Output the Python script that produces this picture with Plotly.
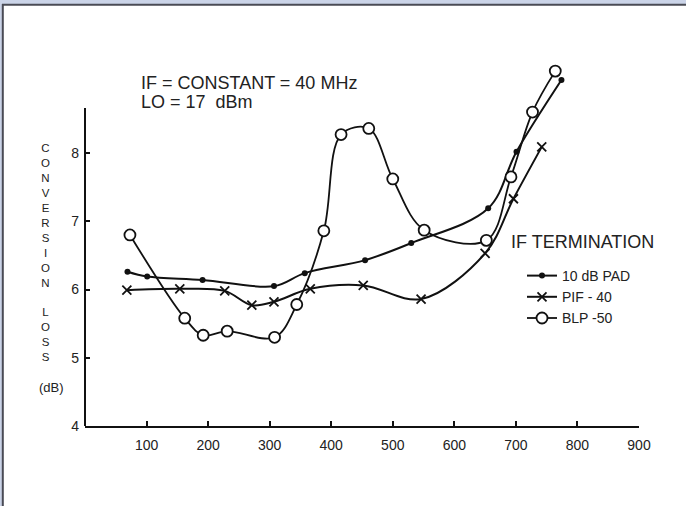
import plotly.graph_objects as go

# ---- data ----
pad_x = [69, 101, 191, 307, 357, 455, 530, 655, 701, 774]
pad_y = [6.26, 6.19, 6.14, 6.05, 6.24, 6.43, 6.68, 7.19, 8.02, 9.07]

pif_x = [68, 154, 227, 271, 307, 366, 452, 546, 650, 696, 742]
pif_y = [5.99, 6.01, 5.98, 5.77, 5.82, 6.01, 6.06, 5.86, 6.53, 7.33, 8.09]

blp_x = [73, 162, 192, 231, 308, 344, 388, 416, 461, 500, 551, 652, 692, 727, 764]
blp_y = [6.80, 5.58, 5.33, 5.39, 5.30, 5.78, 6.86, 8.27, 8.36, 7.62, 6.87, 6.72, 7.65, 8.60, 9.20]

x_ticks = [100, 200, 300, 400, 500, 600, 700, 800, 900]
y_ticks = [4, 5, 6, 7, 8]
series_names = ["10 dB PAD", "PIF - 40", "BLP -50"]

FONT = "Liberation Sans, Arial, sans-serif"
INK = "#111111"

fig = go.Figure()
fig.add_trace(go.Scatter(
    x=pad_x, y=pad_y, name=series_names[0], mode="lines+markers",
    line=dict(color=INK, width=2, shape="spline", smoothing=1.0),
    marker=dict(symbol="circle", size=6, color=INK),
    cliponaxis=False))
fig.add_trace(go.Scatter(
    x=pif_x, y=pif_y, name=series_names[1], mode="lines+markers",
    line=dict(color=INK, width=2, shape="spline", smoothing=1.0),
    marker=dict(symbol="x-thin", size=9, color=INK, line=dict(width=1.8, color=INK)),
    cliponaxis=False))
fig.add_trace(go.Scatter(
    x=blp_x, y=blp_y, name=series_names[2], mode="lines+markers",
    line=dict(color=INK, width=1.8, shape="spline", smoothing=1.0),
    marker=dict(symbol="circle", size=11, color="white", line=dict(width=1.8, color=INK)),
    cliponaxis=False))

L, R, T, B = 85, 47, 60, 80
W, H = 686, 506
pw, ph = W - L - R, H - T - B


def px(x):
    return (x - L) / pw


def py(y):
    return (H - B - y) / ph


shapes = [
    # y axis line (stops at the top of the scale)
    dict(type="line", xref="paper", yref="y", x0=0, x1=0, y0=4, y1=8.66,
         line=dict(color=INK, width=2)),
    # page frame: lavender band and dark edge on top/left
    dict(type="rect", xref="paper", yref="paper", x0=px(0), x1=px(W), y0=py(0), y1=py(4),
         fillcolor="#cbd4e8", line=dict(width=0), layer="above"),
    dict(type="rect", xref="paper", yref="paper", x0=px(0), x1=px(2), y0=py(0), y1=py(H),
         fillcolor="#cbd4e8", line=dict(width=0), layer="above"),
    dict(type="line", xref="paper", yref="paper", x0=px(2), x1=px(W), y0=py(4.8), y1=py(4.8),
         line=dict(color="#4a4b55", width=2)),
    dict(type="line", xref="paper", yref="paper", x0=px(2.8), x1=px(2.8), y0=py(4), y1=py(H),
         line=dict(color="#4a4b55", width=2)),
]

annotations = [
    dict(text="IF = CONSTANT = 40 MHz", xref="paper", yref="paper", x=px(139), y=py(83),
         xanchor="left", yanchor="middle", showarrow=False,
         font=dict(family=FONT, size=18, color="#222")),
    dict(text="LO = 17  dBm", xref="paper", yref="paper", x=px(139), y=py(102),
         xanchor="left", yanchor="middle", showarrow=False,
         font=dict(family=FONT, size=18, color="#222")),
    dict(text="IF TERMINATION", xref="paper", yref="paper", x=px(509), y=py(241.5),
         xanchor="left", yanchor="middle", showarrow=False,
         font=dict(family=FONT, size=18, color="#222")),
    dict(text="<br>".join(list("CONVERSION") + [""] + list("LOSS")),
         xref="paper", yref="paper", x=px(45), y=py(140), xanchor="center", yanchor="top",
         showarrow=False, font=dict(family=FONT, size=11.5, color="#222")),
    dict(text="(dB)", xref="paper", yref="paper", x=px(51), y=py(387),
         xanchor="center", yanchor="middle", showarrow=False,
         font=dict(family=FONT, size=13, color="#222")),
]

fig.update_layout(
    width=W, height=H,
    margin=dict(l=L, r=R, t=T, b=B, pad=0),
    paper_bgcolor="white", plot_bgcolor="white",
    font=dict(family=FONT, size=13, color="#222"),
    shapes=shapes, annotations=annotations,
    showlegend=True,
    legend=dict(x=px(522), y=py(260), xanchor="left", yanchor="top",
                bgcolor="rgba(0,0,0,0)", font=dict(family=FONT, size=14, color="#222"),
                itemwidth=30, tracegroupgap=0),
    xaxis=dict(range=[0, 900], tickvals=x_ticks, ticks="inside", ticklen=5, tickwidth=2,
               tickcolor=INK, showline=True, linewidth=2, linecolor=INK, showgrid=False,
               zeroline=False, ticklabelstandoff=5, tickfont=dict(size=14)),
    yaxis=dict(range=[4, 9.363], tickvals=y_ticks, ticks="inside", ticklen=5, tickwidth=2,
               tickcolor=INK, showline=False, showgrid=False, zeroline=False,
               ticklabelstandoff=5, tickfont=dict(size=14)),
)

fig.write_html(
    "out.html",
    config={"displayModeBar": False},
    post_script="document.body.style.margin='0';document.body.style.overflow='hidden';",
)
